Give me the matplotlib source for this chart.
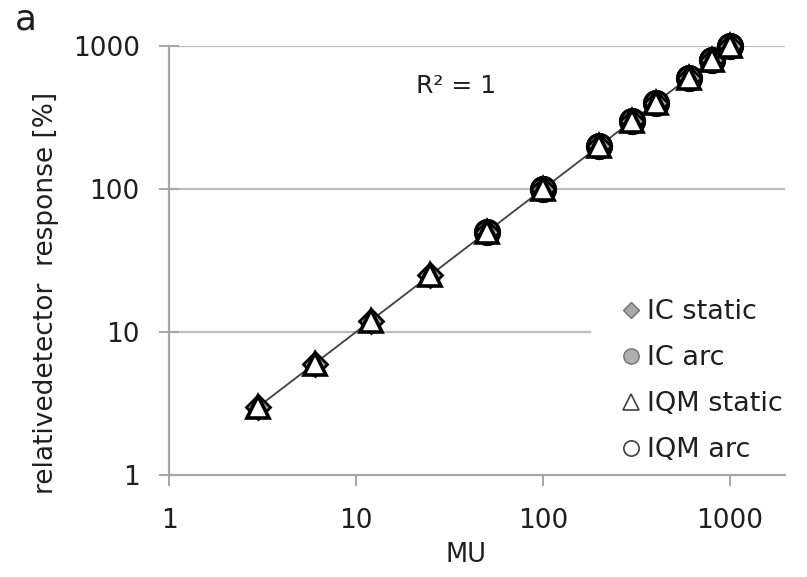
import matplotlib
matplotlib.use("Agg")
import matplotlib.pyplot as plt
from matplotlib.lines import Line2D

plt.rcParams['font.family'] = ['DejaVu Sans']

# monitor units and relative detector response (%)
mu_static = [3, 6, 12, 25, 50, 100, 200, 300, 400, 600, 800, 1000]
ic_static = [3, 6, 12, 25, 50, 100, 200, 300, 400, 600, 800, 1000]
iqm_static = [3, 6, 12, 25, 50, 100, 200, 300, 400, 600, 800, 1000]
mu_arc = [50, 100, 200, 300, 400, 600, 800, 1000]
ic_arc = [50, 100, 200, 300, 400, 600, 800, 1000]
iqm_arc = [50, 100, 200, 300, 400, 600, 800, 1000]
x_ticks = [1, 10, 100, 1000]
y_ticks = [1, 10, 100, 1000]
labels = ['IC static', 'IC arc', 'IQM static', 'IQM arc']

W, H = 807, 577
fig = plt.figure(figsize=(W / 100, H / 100), dpi=100)
ax = fig.add_axes([169 / W, 1 - 475 / H, (785 - 169) / W, (475 - 46) / H])

ax.set_xscale('log')
ax.set_yscale('log')
ax.set_xlim(1, 10 ** ((785 - 169) / 187))
ax.set_ylim(1, 1000)

grid_c = '#bdbdbd'
ax.axhline(1000, color=grid_c, lw=1.6, zorder=0)
ax.axhline(100, color=grid_c, lw=1.6, zorder=0)
# the legend sits over the right part of the 10 % line
ax.axhline(10, xmax=(590 - 169) / (785 - 169), color=grid_c, lw=1.6, zorder=0)

# linear trendline
ax.plot(mu_static, iqm_static, color='#404040', lw=1.3, zorder=1)

ax.plot(mu_arc, ic_arc, 'o', ms=17, mfc='#b0b0b0', mec='black', mew=2.4, zorder=2, clip_on=False)
ax.plot(mu_arc, iqm_arc, 'o', ms=17, mfc='white', mec='black', mew=2.4, zorder=3, clip_on=False)
ax.plot(mu_static, ic_static, 'D', ms=12, mfc='#a8a8a8', mec='black', mew=2, zorder=4, clip_on=False)
ax.plot(mu_static, iqm_static, '^', ms=16, mfc='white', mec='black', mew=2.6, zorder=5, clip_on=False)

for s in ['top', 'right']:
    ax.spines[s].set_visible(False)
for s in ['left', 'bottom']:
    ax.spines[s].set_color('#a6a6a6')
    ax.spines[s].set_linewidth(1.6)

ax.set_xticks(x_ticks)
ax.set_xticklabels([str(v) for v in x_ticks])
ax.set_yticks(y_ticks)
ax.set_yticklabels([str(v) for v in y_ticks])
ax.minorticks_off()
ax.tick_params(axis='x', direction='out', length=8, width=1.4, color='#a6a6a6',
               labelsize=19, pad=16, labelcolor='#1f1f1f')
ax.tick_params(axis='y', direction='inout', length=14, width=1.4, color='#a6a6a6',
               labelsize=19, pad=14, labelcolor='#1f1f1f')

handles = [
    Line2D([], [], ls='', marker='D', ms=8.5, mfc='#a8a8a8', mec='#707070', mew=1),
    Line2D([], [], ls='', marker='o', ms=11, mfc='#b0b0b0', mec='#707070', mew=1),
    Line2D([], [], ls='', marker='^', ms=11.5, mfc='white', mec='#404040', mew=1.2),
    Line2D([], [], ls='', marker='o', ms=11, mfc='white', mec='#404040', mew=1.2),
]
leg = fig.legend(handles, labels, loc='upper left', bbox_to_anchor=(619 / W, 1 - 299 / H),
                 fontsize=19.5, frameon=False, labelspacing=0.74, handletextpad=0.15,
                 handlelength=0.9, borderpad=0, borderaxespad=0)
for t in leg.get_texts():
    t.set_color('#1f1f1f')

fig.text(456 / W, 1 - 86 / H, 'R² = 1', fontsize=18, ha='center', va='center', color='#1f1f1f')
fig.text(466 / W, 1 - 555 / H, 'MU', fontsize=18.5, ha='center', va='center', color='#1f1f1f')
fig.text(46 / W, 1 - 293 / H, 'relativedetector  response [%]', fontsize=19,
         rotation=90, ha='center', va='center', color='#1f1f1f')
fig.text(26 / W, 1 - 20 / H, 'a', fontsize=26, ha='center', va='center', color='#1f1f1f')

fig.savefig('out.png', dpi=100)
